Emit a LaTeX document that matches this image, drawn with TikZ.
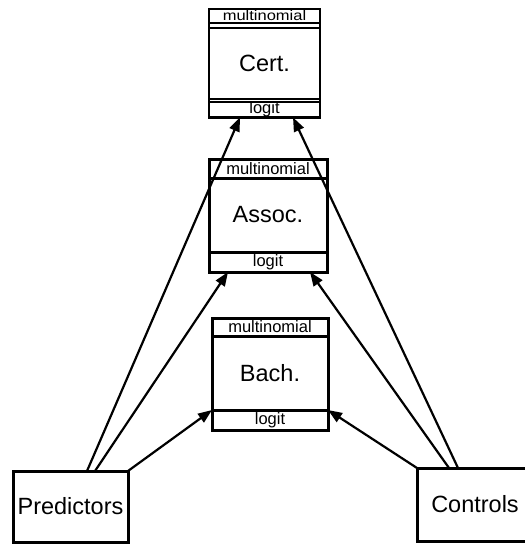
\documentclass[tikz,border=0pt]{standalone}
\usepackage{fontspec}
\setmainfont{Liberation Sans}
\usetikzlibrary{arrows.meta}

\begin{document}
\begin{tikzpicture}[x=1pt,y=-1pt,
    part/.style={draw,line width=3pt,inner sep=0pt,outer sep=0pt,minimum width=#1},
    thinpart/.style={draw,line width=2pt,inner sep=0pt,outer sep=0pt,minimum width=#1},
    small/.style={font=\fontsize{16.5}{16.5}\selectfont},
    big/.style={font=\fontsize{23.5}{23.5}\selectfont},
    link/.style={line width=2.2pt,-{Triangle[length=14pt,width=10.5pt]}}]
    \useasboundingbox (0,0) rectangle (525,544);

    \node[thinpart=111pt,small,yscale=0.85,minimum height=16pt,anchor=north] (certtop) at (264.5,9) {multinomial};
    \node[thinpart=111pt,big,minimum height=71pt,anchor=north] (cert) at (264.5,28.3) {Cert.};
    \node[thinpart=111pt,small,minimum height=15pt,anchor=north] (certbot) at (264.5,102) {\raisebox{-1pt}{logit}};
    \draw[line width=2.6pt] (certtop.north west) rectangle (certbot.south east);

    \node[part=118pt,small,minimum height=19pt,anchor=north] (assoctop) at (268,159) {multinomial};
    \node[part=118pt,big,minimum height=74pt,anchor=north] (assoc) at (assoctop.south) {Assoc.};
    \node[part=118pt,small,minimum height=20pt,anchor=north] (assocbot) at (assoc.south) {logit};

    \node[part=116pt,small,minimum height=18pt,anchor=north] (bachtop) at (270,318) {multinomial};
    \node[part=116pt,big,minimum height=74pt,anchor=north] (bach) at (bachtop.south) {Bach.};
    \node[part=116pt,small,minimum height=20pt,anchor=north] (bachbot) at (bach.south) {logit};

    \node[part=115pt,big,minimum height=71pt] (pred) at (70.5,506.5) {Predictors};
    \node[part=116pt,big,minimum height=73pt] (ctrl) at (475,504.5) {Controls};

    \draw[link] ([xshift=16.5pt]pred.north) -- ([xshift=-24.5pt]certbot.south);
    \draw[link] ([xshift=24.5pt]pred.north) -- ([xshift=-40pt]assocbot.south);
    \draw[link] (pred.north east) -- (bachbot.north west);

    \draw[link] ([xshift=-17pt]ctrl.north) -- ([xshift=28.5pt]certbot.south);
    \draw[link] ([xshift=-26pt]ctrl.north) -- ([xshift=42pt]assocbot.south);
    \draw[link] (ctrl.north west) -- (bachbot.north east);
\end{tikzpicture}
\end{document}
